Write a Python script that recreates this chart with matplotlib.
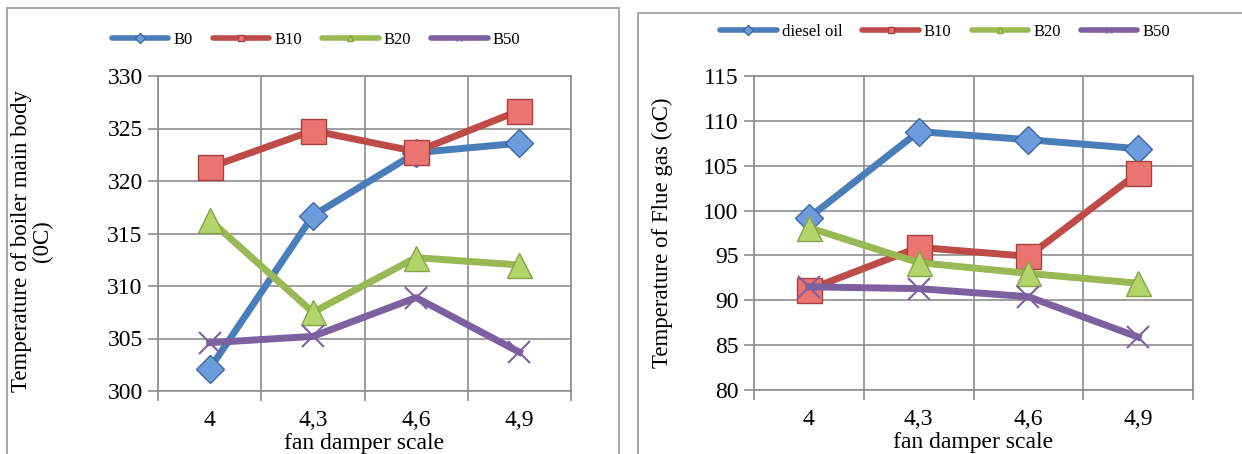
import matplotlib.pyplot as plt
from matplotlib.lines import Line2D
from matplotlib.patches import Rectangle

# ======================
# DATA
# ======================
damper = ["4", "4,3", "4,6", "4,9"]

body_names = ["B0", "B10", "B20", "B50"]
body_b0 = [302.1, 316.7, 322.7, 323.6]
body_b10 = [321.3, 324.8, 322.8, 326.7]
body_b20 = [316.3, 307.5, 312.7, 312.0]
body_b50 = [304.6, 305.2, 308.9, 303.7]

flue_names = ["diesel oil", "B10", "B20", "B50"]
flue_diesel = [99.2, 108.8, 107.9, 106.9]
flue_b10 = [91.2, 95.9, 94.9, 104.2]
flue_b20 = [98.1, 94.2, 93.0, 91.9]
flue_b50 = [91.5, 91.3, 90.4, 85.9]

# ======================
# STYLE
# ======================
plt.rcParams['font.family'] = ['Liberation Serif', 'DejaVu Serif']

LINE_COL = ["#4A7EBB", "#BE4B48", "#98B954", "#7D60A0"]
FACE_COL = ["#6C9CDB", "#EC7470", "#B3D46B", "#7D60A0"]
EDGE_COL = ["#3C69A3", "#A8403D", "#86A545", "#7D60A0"]
MARKERS = ["D", "s", "^", "x"]
MSIZE = [14, 18, 18, 16]
GRID = "#8E8E8E"


def draw_panel(ax, series, names, ylo, yhi, ylabel, ylab_xy):
    x = range(len(damper))
    for i, vals in enumerate(series):
        ax.plot(x, vals, color=LINE_COL[i], lw=5, marker=MARKERS[i],
                ms=MSIZE[i], mfc=FACE_COL[i], mec=EDGE_COL[i],
                mew=1.5 if MARKERS[i] == "x" else 1.0, zorder=3 + i)
    ax.set_xlim(-0.5, len(damper) - 0.5)
    ax.set_ylim(ylo, yhi)
    ax.set_yticks(range(ylo, yhi + 1, 5))
    ax.set_xticks([i - 0.5 for i in range(len(damper) + 1)], minor=False)
    ax.set_xticklabels([])
    ax.set_xticks(list(x), minor=True)
    ax.set_xticklabels(damper, minor=True)
    ax.tick_params(axis="x", which="major", length=7, width=1.2, color=GRID)
    ax.tick_params(axis="x", which="minor", length=0, pad=14, labelsize=17)
    ax.tick_params(axis="y", length=7, width=1.2, color=GRID, labelsize=17, pad=4)
    ax.grid(True, which="major", color=GRID, lw=1.2)
    ax.set_axisbelow(True)
    for s in ax.spines.values():
        s.set_color(GRID)
        s.set_linewidth(1.2)
    ax.set_xlabel("fan damper scale", fontsize=17)
    ax.xaxis.set_label_coords(0.5, -0.134)
    ax.set_ylabel(ylabel, fontsize=16.5, linespacing=1.0)
    ax.yaxis.set_label_coords(*ylab_xy)

    handles = [Line2D([], [], color=LINE_COL[i], lw=4, marker=MARKERS[i], ms=5,
                      mfc=FACE_COL[i], mec=EDGE_COL[i], solid_capstyle="round")
               for i in range(len(names))]
    return handles


fig = plt.figure(figsize=(12.42, 4.54), dpi=100)

# cornici dei due pannelli
fig.patches.append(Rectangle((7 / 1242, -0.1), 612 / 1242, 1.1 - 8 / 454,
                             transform=fig.transFigure, fill=False,
                             ec="#A0A0A0", lw=1.3))
fig.patches.append(Rectangle((638 / 1242, -0.1), 700 / 1242, 1.1 - 13 / 454,
                             transform=fig.transFigure, fill=False,
                             ec="#A0A0A0", lw=1.3))

ax1 = fig.add_axes([158 / 1242, 1 - 391 / 454, 413 / 1242, 315 / 454])
h1 = draw_panel(ax1, [body_b0, body_b10, body_b20, body_b50], body_names,
                300, 330, "Temperature of boiler main body\n(0C)", (-0.255, 0.476))
fig.legend(h1, body_names, loc="center", bbox_to_anchor=(316 / 1242, 1 - 40 / 454),
           ncol=4, frameon=False, fontsize=12, handlelength=3.4,
           handletextpad=0.3, columnspacing=1.2)

ax2 = fig.add_axes([754 / 1242, 1 - 390 / 454, 439 / 1242, 314 / 454])
h2 = draw_panel(ax2, [flue_diesel, flue_b10, flue_b20, flue_b50], flue_names,
                80, 115, "Temperature of Flue gas (oC)", (-0.185, 0.5))
fig.legend(h2, flue_names, loc="center", bbox_to_anchor=(945 / 1242, 1 - 32 / 454),
           ncol=4, frameon=False, fontsize=12, handlelength=3.4,
           handletextpad=0.3, columnspacing=1.2)

fig.savefig("out.png", dpi=100)
